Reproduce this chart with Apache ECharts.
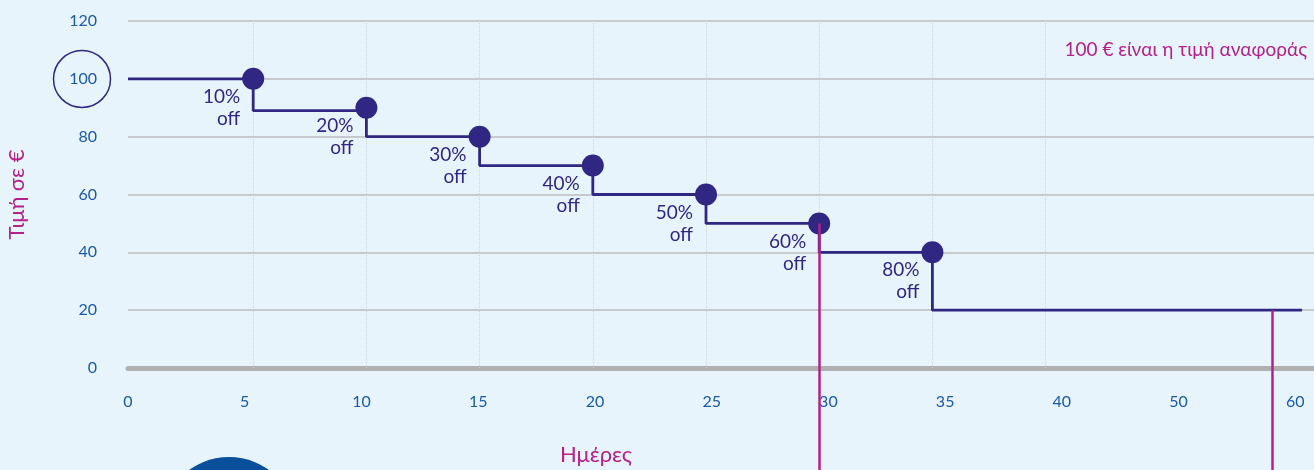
<!DOCTYPE html>
<html>
<head>
<meta charset="utf-8">
<script src="https://cdn.jsdelivr.net/npm/echarts@6/dist/echarts.min.js"></script>
<style>
  html, body { margin: 0; padding: 0; background: #e8f4fc; }
  #chart { width: 1314px; height: 470px; }
</style>
</head>
<body>
<div id="chart"></div>
<script>
// x tick labels (days) - evenly spaced on the picture
var dayLabels = ['0', '5', '10', '15', '20', '25', '30', '35', '40', '50', '60'];
var yTicks = [0, 20, 40, 60, 80, 100, 120];

// the price steps: index into dayLabels, price before and after the cut
var stepIdx = [1, 2, 3, 4, 5, 6, 7];
var priceBefore = [100, 90, 80, 70, 60, 50, 40];
var priceAfter = [89, 80, 70, 60, 50, 40, 20];
var discounts = ['10%', '20%', '30%', '40%', '50%', '60%', '80%'];

// pink markers (index into dayLabels, price where they start)
var guideIdx = [6, 10];
var guideTop = [50, 20];

var dom = document.getElementById('chart');
var chart = echarts.init(dom);

var navy = '#302783';
var pink = '#b5218a';
var blue = '#1a5aa6';
var font = 'Lato';

// data grid runs to the bottom of the page so the pink markers can go down
var dataMin = -0.106, dataMax = 10.265;
var yMin = 120 - 449 / (347 / 120);

var stepLine = [[dataMin, 100]];
for (var i = 0; i < stepIdx.length; i++) {
    stepLine.push([stepIdx[i], priceAfter[i]]);
}
stepLine.push([dataMax, priceAfter[priceAfter.length - 1]]);

var dots = stepIdx.map(function (x, i) { return [x, priceBefore[i]]; });

var guides = guideIdx.map(function (x, i) {
    return [{ coord: [x, guideTop[i]] }, { coord: [x, yMin] }];
});
var dotted = [1, 2, 3, 4, 5, 6, 7, 8].map(function (x) {
    return [{ coord: [x, 0] }, { coord: [x, 120] }];
});

option = {
    backgroundColor: '#e8f4fc',
    textStyle: { fontFamily: font },
    grid: [
        { left: 128, right: 0, top: 21, bottom: 102, outerBoundsMode: 'none' },
        { left: 128, right: 12, top: 21, bottom: 0, outerBoundsMode: 'none' }
    ],
    xAxis: [
        {
            gridIndex: 0,
            type: 'value',
            min: 0,
            max: 10.16,
            interval: 1,
            axisLine: { show: true, lineStyle: { color: '#b0b0b0', width: 5 } },
            axisTick: { show: false },
            splitLine: { show: false },
            axisLabel: {
                color: blue,
                fontSize: 16,
                margin: 26,
                formatter: function (v) { return dayLabels[v] !== undefined ? dayLabels[v] : ''; }
            }
        },
        {
            gridIndex: 1,
            type: 'value',
            min: dataMin,
            max: dataMax,
            show: false
        }
    ],
    yAxis: [
        {
            gridIndex: 0,
            type: 'value',
            min: yTicks[0],
            max: yTicks[yTicks.length - 1],
            interval: 20,
            name: 'Τιμή σε €',
            nameLocation: 'middle',
            nameRotate: 90,
            nameGap: 100,
            nameTextStyle: { color: pink, fontSize: 22, fontFamily: font },
            axisLine: { show: false },
            axisTick: { show: false },
            axisLabel: { color: blue, fontSize: 16, margin: 31 },
            splitLine: { lineStyle: { color: '#bdbdbd', width: 1.5 } }
        },
        {
            gridIndex: 1,
            type: 'value',
            min: yMin,
            max: 120,
            show: false
        }
    ],
    graphic: [
        {
            type: 'circle',
            shape: { cx: 82, cy: 79, r: 28.5 },
            style: { fill: 'none', stroke: navy, lineWidth: 1.5 }
        },
        {
            type: 'circle',
            shape: { cx: 229, cy: 525, r: 68 },
            style: { fill: '#0a4f9c' }
        },
        {
            type: 'text',
            x: 1307,
            y: 50,
            style: { text: '100 € είναι η τιμή αναφοράς', fill: pink, fontSize: 19, fontFamily: font, align: 'right', verticalAlign: 'middle' }
        },
        {
            type: 'text',
            x: 596,
            y: 455,
            style: { text: 'Ημέρες', fill: pink, fontSize: 22, fontFamily: font, align: 'center', verticalAlign: 'middle' }
        }
    ],
    series: [
        {
            type: 'line',
            xAxisIndex: 1,
            yAxisIndex: 1,
            data: [],
            z: 1,
            markLine: {
                z: 1,
                silent: true,
                symbol: 'none',
                label: { show: false },
                lineStyle: { color: '#cfd6dd', type: 'dotted', width: 1 },
                data: dotted
            }
        },
        {
            type: 'line',
            xAxisIndex: 1,
            yAxisIndex: 1,
            data: stepLine,
            step: 'end',
            symbol: 'none',
            lineStyle: { color: navy, width: 2.8 },
            z: 3
        },
        {
            type: 'scatter',
            xAxisIndex: 1,
            yAxisIndex: 1,
            data: dots,
            symbolSize: 22,
            itemStyle: { color: navy, opacity: 1 },
            z: 4,
            label: {
                show: true,
                position: 'left',
                distance: 2,
                offset: [0, 29],
                align: 'right',
                color: navy,
                fontSize: 19,
                lineHeight: 22,
                fontFamily: font,
                formatter: function (p) { return discounts[p.dataIndex] + '\noff'; }
            }
        },
        {
            type: 'line',
            xAxisIndex: 1,
            yAxisIndex: 1,
            data: [],
            z: 5,
            markLine: {
                z: 10,
                silent: true,
                symbol: 'none',
                label: { show: false },
                lineStyle: { color: pink, type: 'solid', width: 2.5 },
                data: guides
            }
        }
    ]
};

chart.setOption(option);
</script>
</body>
</html>
